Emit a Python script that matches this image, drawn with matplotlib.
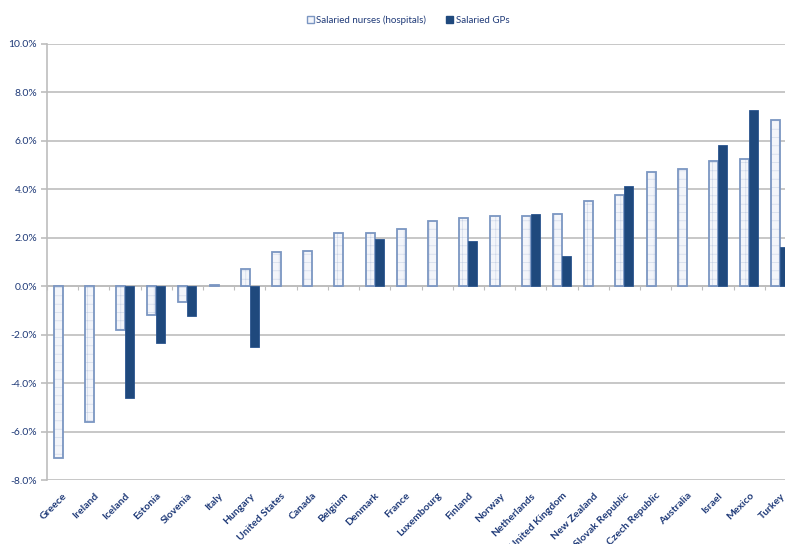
import matplotlib
matplotlib.use("Agg")
import matplotlib.pyplot as plt
import numpy as np
from matplotlib.patches import Patch
from matplotlib.ticker import FuncFormatter

countries = ["Greece", "Ireland", "Iceland", "Estonia", "Slovenia", "Italy", "Hungary",
             "United States", "Canada", "Belgium", "Denmark", "France", "Luxembourg",
             "Finland", "Norway", "Netherlands", "United Kingdom", "New Zealand",
             "Slovak Republic", "Czech Republic", "Australia", "Israel", "Mexico", "Turkey"]
nurses = [-7.1, -5.6, -1.82, -1.17, -0.65, 0.05, 0.73, 1.40, 1.45, 2.20, 2.20, 2.38, 2.70,
          2.81, 2.89, 2.89, 3.00, 3.53, 3.75, 4.73, 4.83, 5.17, 5.26, 6.88]
gps = [np.nan, np.nan, -4.60, -2.33, -1.23, np.nan, -2.52, np.nan, np.nan, np.nan, 1.96,
       np.nan, np.nan, 1.88, np.nan, 3.00, 1.23, np.nan, 4.15, np.nan, np.nan, 5.85, 7.28, 1.62]
yticks = [-8, -6, -4, -2, 0, 2, 4, 6, 8, 10]

plt.rcParams['font.family'] = ['Lato', 'DejaVu Sans']
plt.rcParams['hatch.linewidth'] = 0.4

fig = plt.figure(figsize=(7.85, 5.44), dpi=100)
W, H = 785, 544
ax = fig.add_axes([47 / W, (H - 480) / H, (796 - 47) / W, 436 / H])

x = np.arange(len(countries))
bw = 0.29
txtcol = '#1f3a78'
navy = '#1f497d'
edge = '#7b96c2'

# nurses: light hatched fill + blue outline
ax.bar(x - bw / 2, nurses, bw, color='#f3f5fa', edgecolor='#c9d3e6', hatch='++',
       linewidth=0, zorder=3)
ax.bar(x - bw / 2, nurses, bw, facecolor='none', edgecolor=edge, linewidth=1.3, zorder=4)
ax.bar(x + bw / 2, gps, bw, color=navy, edgecolor='#2a558f', linewidth=0.6, zorder=4)

ax.set_xlim(-0.5, len(countries) - 0.5)
ax.set_ylim(-8, 10)
ax.set_yticks(yticks)
ax.yaxis.set_major_formatter(FuncFormatter(lambda v, p: f"{v:.1f}%"))
ax.grid(axis='y', color='#bdbdbd', linewidth=1.2, zorder=0)
ax.set_axisbelow(True)

for s in ['top', 'right', 'bottom']:
    ax.spines[s].set_visible(False)
ax.spines['left'].set_color('#bdbdbd')
ax.spines['left'].set_linewidth(1.2)
ax.tick_params(axis='y', colors='#bdbdbd', length=4, width=1.2, labelcolor=txtcol,
               labelsize=7.5, pad=3)

ax.set_xticks(x)
ax.set_xticklabels(countries, rotation=45, ha='right', rotation_mode='anchor',
                   color=txtcol, fontsize=7.5, fontweight='bold')
ax.tick_params(axis='x', length=0, pad=8)

# zero axis line with category boundary ticks
sec = ax.secondary_xaxis(8 / 18)
sec.set_xticks(np.arange(-0.5, len(countries), 1.0))
sec.set_xticklabels([])
sec.spines['bottom'].set_color('#bdbdbd')
sec.spines['bottom'].set_linewidth(1.2)
sec.tick_params(axis='x', direction='out', length=3, width=0.8, color='#bdbdbd')
for s in ['top', 'left', 'right']:
    sec.spines[s].set_visible(False)

handles = [Patch(facecolor='#f3f5fa', edgecolor=edge, linewidth=1.0, label='Salaried nurses (hospitals)'),
           Patch(facecolor=navy, edgecolor=navy, label='Salaried GPs')]
fig.legend(handles=handles, loc='center', bbox_to_anchor=(408 / W, 1 - 20 / H), ncol=2,
           frameon=False, fontsize=7, handlelength=0.7, handleheight=0.7,
           handletextpad=0.3, columnspacing=2.0, labelcolor=txtcol)

fig.savefig('out.png', dpi=100)
